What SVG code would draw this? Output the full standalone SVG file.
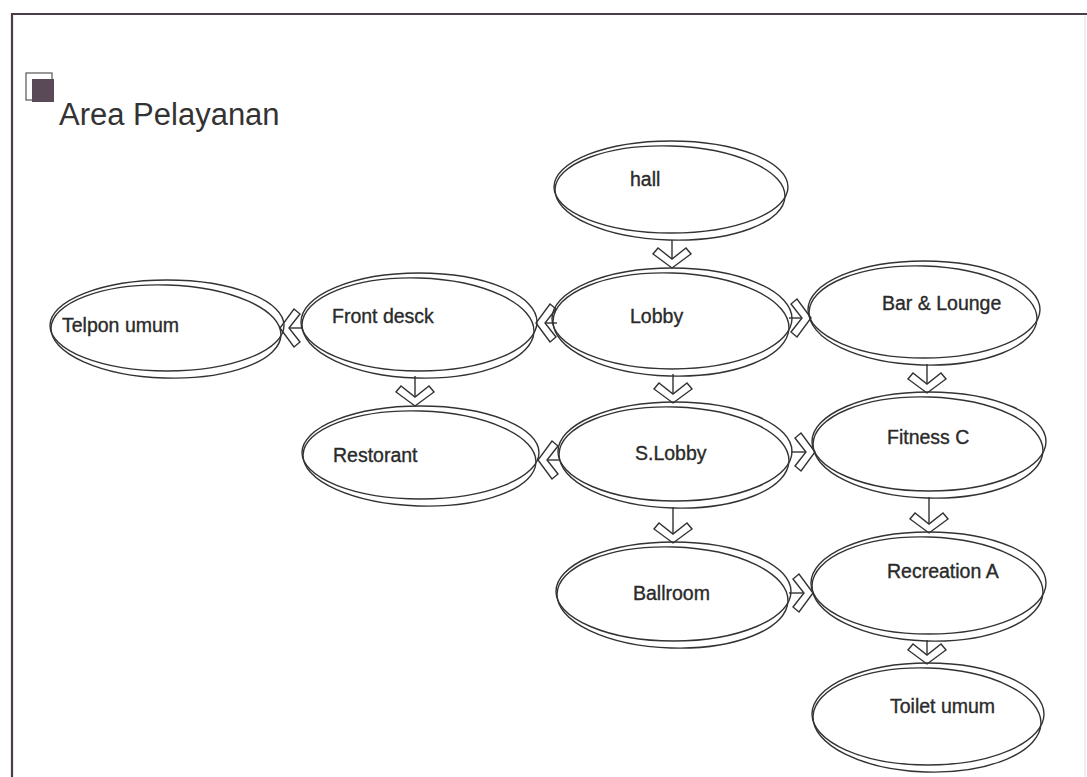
<svg xmlns="http://www.w3.org/2000/svg" width="1087" height="777" viewBox="0 0 1087 777">
<style>
.e{fill:none;stroke:#333;stroke-width:1.4}
.t{font-family:"Liberation Sans",Arial,sans-serif;font-size:19.5px;fill:#2a2a2a;stroke:#2a2a2a;stroke-width:0.35}
.c{stroke:#333;stroke-width:1.4;fill:none}
</style>
<defs>
<marker id="chev" markerUnits="userSpaceOnUse" viewBox="-22 -21 24 42" markerWidth="24" markerHeight="42" refX="0" refY="0" orient="auto" overflow="visible">
<path d="M0,0 L-14,-19 L-20,-14 L-9,0 L-20,14 L-14,19 Z" fill="#fff" stroke="#333" stroke-width="1.4" stroke-linejoin="miter"/>
</marker>
</defs>
<rect width="1087" height="777" fill="#fff"/>
<g id="frame">
<path d="M12,790 L12,14 L1090,14" fill="none" stroke="#4a3c48" stroke-width="2.2"/>
<line x1="1085" y1="16" x2="1085" y2="777" stroke="#ddd" stroke-width="1"/>
</g>
<g id="title">
<rect x="26" y="73" width="26" height="27" fill="#fff" stroke="#555" stroke-width="1.2"/>
<rect x="32" y="79" width="22" height="23" fill="#5a4a58"/>
<text x="59" y="125" font-family="'Liberation Sans',Arial,sans-serif" font-size="31" fill="#333">Area Pelayanan</text>
</g>
<g id="connectors">
<line class="c" x1="672" y1="240" x2="672" y2="268" marker-end="url(#chev)"/>
<line class="c" x1="557" y1="323" x2="536" y2="323" marker-end="url(#chev)"/>
<line class="c" x1="303" y1="328" x2="280" y2="328" marker-end="url(#chev)"/>
<line class="c" x1="789" y1="318" x2="811" y2="318" marker-end="url(#chev)"/>
<line class="c" x1="415" y1="376" x2="415" y2="406" marker-end="url(#chev)"/>
<line class="c" x1="673" y1="374" x2="673" y2="403" marker-end="url(#chev)"/>
<line class="c" x1="560" y1="460" x2="538" y2="460" marker-end="url(#chev)"/>
<line class="c" x1="791" y1="452" x2="815" y2="452" marker-end="url(#chev)"/>
<line class="c" x1="673" y1="507" x2="673" y2="543" marker-end="url(#chev)"/>
<line class="c" x1="789" y1="593" x2="813" y2="593" marker-end="url(#chev)"/>
<line class="c" x1="927" y1="364" x2="927" y2="393" marker-end="url(#chev)"/>
<line class="c" x1="929" y1="497" x2="929" y2="533" marker-end="url(#chev)"/>
<line class="c" x1="927" y1="640" x2="927" y2="664" marker-end="url(#chev)"/>
</g>
<g id="hall">
<ellipse class="e" cx="671" cy="187" rx="117" ry="46"/>
<ellipse class="e" cx="670" cy="193" rx="115" ry="47" transform="rotate(1.8 670 193)"/>
<text class="t" x="630" y="186">hall</text>
</g>
<g id="lobby">
<ellipse class="e" cx="672" cy="318.5" rx="120" ry="50.5"/>
<ellipse class="e" cx="671" cy="324.5" rx="118" ry="51.5" transform="rotate(1.8 671 324.5)"/>
<text class="t" x="630" y="323">Lobby</text>
</g>
<g id="telpon-umum">
<ellipse class="e" cx="167" cy="325.5" rx="117" ry="45.5"/>
<ellipse class="e" cx="166" cy="331.5" rx="115" ry="46.5" transform="rotate(1.8 166 331.5)"/>
<text class="t" x="62" y="332">Telpon umum</text>
</g>
<g id="front-desck">
<ellipse class="e" cx="419" cy="322" rx="118" ry="49"/>
<ellipse class="e" cx="418" cy="328" rx="116" ry="50" transform="rotate(1.8 418 328)"/>
<text class="t" x="332" y="323">Front desck</text>
</g>
<g id="bar-lounge">
<ellipse class="e" cx="924" cy="309.5" rx="116" ry="48.5"/>
<ellipse class="e" cx="923" cy="315.5" rx="114" ry="49.5" transform="rotate(1.8 923 315.5)"/>
<text class="t" x="882" y="310">Bar &amp; Lounge</text>
</g>
<g id="restorant">
<ellipse class="e" cx="420.5" cy="452.5" rx="118.5" ry="46.5"/>
<ellipse class="e" cx="419.5" cy="458.5" rx="116.5" ry="47.5" transform="rotate(1.8 419.5 458.5)"/>
<text class="t" x="333" y="462">Restorant</text>
</g>
<g id="s-lobby">
<ellipse class="e" cx="675" cy="451.5" rx="117" ry="49.5"/>
<ellipse class="e" cx="674" cy="457.5" rx="115" ry="50.5" transform="rotate(1.8 674 457.5)"/>
<text class="t" x="635" y="460">S.Lobby</text>
</g>
<g id="fitness-c">
<ellipse class="e" cx="929" cy="441.5" rx="117" ry="49.5"/>
<ellipse class="e" cx="928" cy="447.5" rx="115" ry="50.5" transform="rotate(1.8 928 447.5)"/>
<text class="t" x="887" y="444">Fitness C</text>
</g>
<g id="ballroom">
<ellipse class="e" cx="673.5" cy="591.5" rx="117.5" ry="49.5"/>
<ellipse class="e" cx="672.5" cy="597.5" rx="115.5" ry="50.5" transform="rotate(1.8 672.5 597.5)"/>
<text class="t" x="633" y="600">Ballroom</text>
</g>
<g id="recreation-a">
<ellipse class="e" cx="928.5" cy="583" rx="117.5" ry="51"/>
<ellipse class="e" cx="927.5" cy="589" rx="115.5" ry="52" transform="rotate(1.8 927.5 589)"/>
<text class="t" x="887" y="578">Recreation A</text>
</g>
<g id="toilet-umum">
<ellipse class="e" cx="928" cy="714" rx="116" ry="51"/>
<ellipse class="e" cx="927" cy="720" rx="114" ry="52" transform="rotate(1.8 927 720)"/>
<text class="t" x="890" y="713">Toilet umum</text>
</g>
</svg>
